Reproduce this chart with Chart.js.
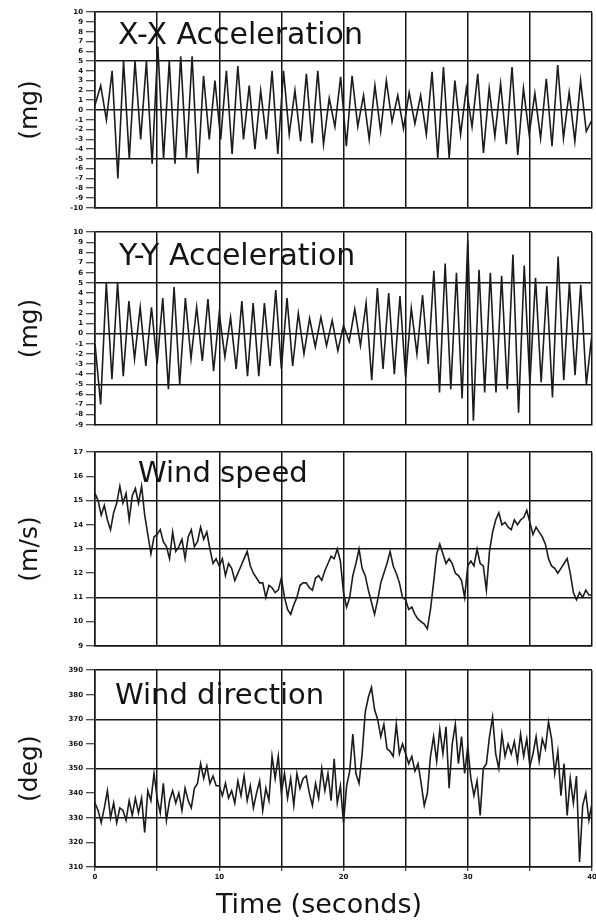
<!DOCTYPE html>
<html>
<head>
<meta charset="utf-8">
<script src="https://cdn.jsdelivr.net/npm/chart.js@4.4.1/dist/chart.umd.min.js"></script>
<style>
  body { margin: 0; background: #fff; }
  #wrap { position: relative; width: 596px; height: 924px; }
  canvas { position: absolute; left: 0; }
</style>
</head>
<body>
<div id="wrap">
  <canvas id="xxChart" width="596" height="210" style="top:5px"></canvas>
  <canvas id="yyChart" width="596" height="207" style="top:225px"></canvas>
  <canvas id="speedChart" width="596" height="208" style="top:445px"></canvas>
  <canvas id="dirChart" width="596" height="261" style="top:663px"></canvas>
</div>
<script>
// time axis, seconds
const timeMax = 40;
const timeTicks = [0, 10, 20, 30, 40];

// X-X acceleration (mg), read peak / trough by peak / trough
const xxAccel = [0.5, 2.5, -1, 4, -7, 5, -5, 5, -3, 5, -5.5, 6.5, -5, 5, -5.5, 5.5, -5, 5.5, -6.5, 3.5,
  -3, 3, -3, 4, -4.5, 4.5, -3, 2.5, -4, 2, -3, 4, -4.5, 4, -2.5, 2, -3.2,
  3.7, -3.4, 4, -3.5, 1.2, -1.7, 3.4, -3.7, 3.5, -1.7, 1.5, -3, 2.5, -2.2, 3, -1.2, 1.5, -1.9, 1.8,
  -1.4, 1.5, -2.5, 3.9, -4.9, 4.4, -4.9, 3, -2.5, 2.2, -1.7, 3.7, -4.4, 2.2, -2.7, 2.7, -3.5, 4.4,
  -4.6, 2.2, -2.5, 1.7, -2.9, 3.2, -3.7, 4.6, -2.9, 1.8, -3.2, 3, -2.2, -1];

// Y-Y acceleration (mg)
const yyAccel = [-1, -7, 5, -4.5, 5, -4.2, 3.2, -2.5, 2.6, -3.2, 2.6, -3, 3.5, -5.5, 4.6, -5, 3.5, -2.5,
  2.6, -2.7, 3.4, -3.7, 2, -2.3, 1.6, -3.5, 3.2, -4.2, 3, -4.2, 3, -3.2, 4.3, -3.5, 3.5, -3.2, 2,
  -2, 1.5, -1.3, 1.6, -1.2, 1.3, -1.7, 0.8, -0.8, 2.4, -1.2, 3, -4.6, 4.5, -3.5, 4, -4, 3.7, -4.3,
  2.5, -2, 3.8, -3, 6.2, -5.8, 6.9, -5.5, 6, -6.4, 9.2, -8.6, 6.3, -5.8, 6, -5.8, 5.7, -5.5, 7.8,
  -7.8, 6.7, -5, 5.5, -4.8, 4.7, -6.3, 7.6, -4.6, 5, -4.1, 4.8, -5, 0];

// wind speed (m/s), every 0.25 s
const windSpeed = [
  15.3, 15.0, 14.4, 14.8, 14.2, 13.8, 14.5, 14.9, 15.6, 14.9, 15.3, 14.2, 15.2, 15.5, 14.9, 15.6, 14.4, 13.6, 12.8, 13.5,
  13.6, 13.8, 13.3, 13.1, 12.6, 13.7, 12.9, 13.1, 13.4, 12.6, 13.5, 13.8, 13.1, 13.3, 13.9, 13.4, 13.7, 13.0, 12.4, 12.6,
  12.3, 12.6, 11.9, 12.4, 12.2, 11.7, 12.0, 12.3, 12.6, 12.9, 12.3, 12.0, 11.8, 11.6, 11.6, 11.0, 11.5, 11.4, 11.2, 11.3,
  11.8, 11.0, 10.5, 10.3, 10.7, 11.0, 11.5, 11.6, 11.6, 11.4, 11.3, 11.8, 11.9, 11.7, 12.1, 12.4, 12.7, 12.6, 13.0, 12.5,
  11.2, 10.6, 11.0, 11.9, 12.4, 13.0, 12.2, 11.9, 11.3, 10.8, 10.3, 10.9, 11.6, 12.0, 12.4, 12.9, 12.3, 12.0, 11.6, 11.0,
  10.9, 10.5, 10.6, 10.3, 10.1, 10.0, 9.9, 9.7, 10.5, 11.6, 12.8, 13.2, 12.8, 12.4, 12.6, 12.4, 12.0, 11.9, 11.7, 11.0,
  12.3, 12.5, 12.3, 13.0, 12.4, 12.3, 11.3, 12.9, 13.7, 14.2, 14.5, 14.0, 14.1, 13.9, 13.8, 14.2, 14.0, 14.2, 14.3, 14.6,
  14.1, 13.6, 13.9, 13.7, 13.5, 13.2, 12.6, 12.3, 12.2, 12.0, 12.2, 12.4, 12.6, 12.0, 11.2, 10.9, 11.2, 11.0, 11.3, 11.1, 11.1];

// wind direction (deg), every 0.25 s
const windDir = [
  336, 333, 328, 334, 341, 330, 336, 328, 334, 333, 329, 337, 331, 338, 332, 338, 324, 341, 337, 348,
  338, 332, 344, 329, 337, 341, 336, 340, 333, 342, 337, 334, 342, 344, 352, 346, 351, 344, 347, 343,
  343, 339, 344, 338, 341, 336, 345, 339, 347, 337, 343, 334, 340, 345, 333, 342, 337, 355, 346, 355,
  340, 348, 338, 346, 335, 348, 342, 346, 347, 340, 335, 344, 338, 350, 341, 348, 337, 354, 336, 343,
  328, 343, 349, 364, 348, 344, 356, 373, 379, 383, 374, 370, 363, 368, 358, 357, 355, 368, 356, 360,
  356, 352, 355, 349, 352, 344, 335, 340, 355, 363, 353, 366, 356, 367, 342, 360, 368, 352, 363, 348,
  359, 346, 339, 345, 331, 350, 352, 363, 371, 356, 350, 364, 355, 360, 356, 361, 353, 364, 355, 362,
  351, 356, 363, 353, 362, 358, 369, 362, 348, 357, 339, 352, 331, 346, 336, 347, 312, 335, 340, 329, 336];

const ink = '#141414';
const fontFamily = '"DejaVu Sans", sans-serif';

function toPoints(values) {
  return values.map((v, i) => ({ x: timeMax * i / (values.length - 1), y: v }));
}

// panel name inside the plot, and the time label under the last one
const panelText = {
  id: 'panelText',
  afterDraw(chart, args, opts) {
    const { ctx, chartArea } = chart;
    ctx.save();
    ctx.fillStyle = ink;
    ctx.font = opts.size + 'px ' + fontFamily;
    ctx.textBaseline = 'alphabetic';
    ctx.fillText(opts.text, chartArea.left + opts.dx, chartArea.top + opts.dy);
    if (opts.footer) {
      ctx.font = '27px ' + fontFamily;
      ctx.textAlign = 'center';
      ctx.textBaseline = 'middle';
      ctx.fillText(opts.footer, opts.footerX, opts.footerY);
    }
    ctx.restore();
  }
};

function makePanel(id, values, yMin, yMax, yStep, isMajor, unit, name, textSize, dx, dy, last) {
  const tickFont = { family: fontFamily, size: 7, weight: 'bold' };
  new Chart(document.getElementById(id), {
    type: 'line',
    data: {
      datasets: [{
        data: toPoints(values),
        borderColor: '#1c1c1c',
        borderWidth: 1.6,
        pointRadius: 0,
        tension: 0
      }]
    },
    options: {
      responsive: false,
      animation: false,
      layout: { padding: { top: 5, right: 4, bottom: 0, left: 0 } },
      plugins: {
        legend: { display: false },
        tooltip: { enabled: false },
        panelText: last
          ? { text: name, size: textSize, dx: dx, dy: dy, footer: 'Time (seconds)', footerX: 319, footerY: 243 }
          : { text: name, size: textSize, dx: dx, dy: dy }
      },
      scales: {
        x: {
          type: 'linear',
          min: 0,
          max: timeMax,
          afterFit: (s) => {
            s.height = last ? 57 : 5;
            s.paddingLeft = 0;
            s.paddingRight = 0;
          },
          border: { display: true, color: ink, width: 1.5 },
          grid: { color: ink, lineWidth: 1.5, drawTicks: last, tickLength: 4, tickWidth: 1, tickColor: ink },
          ticks: {
            display: last,
            stepSize: 5,
            autoSkip: false,
            maxRotation: 0,
            padding: 2,
            color: ink,
            font: tickFont,
            callback: (v) => timeTicks.includes(v) ? String(v) : ''
          }
        },
        y: {
          min: yMin,
          max: yMax,
          afterFit: (s) => { s.width = 95; },
          border: { display: true, color: ink, width: 1.5 },
          grid: {
            color: (c) => (c.tick && isMajor(c.tick.value)) ? ink : 'rgba(0,0,0,0)',
            lineWidth: 1.5,
            tickColor: ink,
            tickLength: 9,
            tickWidth: 1
          },
          ticks: { stepSize: yStep, autoSkip: false, padding: 3, color: ink, font: tickFont },
          title: {
            display: true,
            text: unit,
            color: ink,
            font: { family: fontFamily, size: 25 },
            padding: { top: 15, bottom: 0 }
          }
        }
      }
    },
    plugins: [panelText]
  });
}

makePanel('xxChart', xxAccel, -10, 10, 1, (v) => v % 5 === 0, '(mg)', 'X-X Acceleration', 30, 23, 32, false);
makePanel('yyChart', yyAccel, -9, 10, 1, (v) => v % 5 === 0, '(mg)', 'Y-Y Acceleration', 30, 24, 33, false);
makePanel('speedChart', windSpeed, 9, 17, 1, (v) => (v - 11) % 2 === 0, '(m/s)', 'Wind speed', 29, 43, 30, false);
makePanel('dirChart', windDir, 310, 390, 10, (v) => (v - 330) % 20 === 0, '(deg)', 'Wind direction', 29, 20, 34, true);
</script>
</body>
</html>
